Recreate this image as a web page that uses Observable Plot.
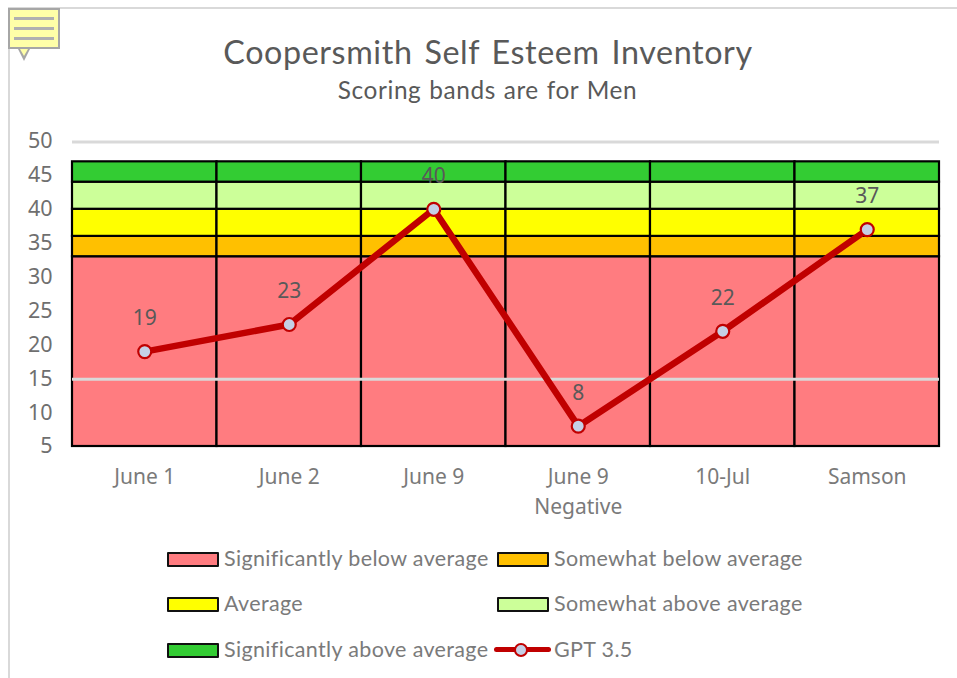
<!DOCTYPE html>
<html>
<head>
<meta charset="utf-8">
<script src="https://cdn.jsdelivr.net/npm/d3@7"></script>
<script src="https://cdn.jsdelivr.net/npm/@observablehq/plot@0.6"></script>
<style>
html,body{margin:0;padding:0;background:#fff;}
body{width:957px;height:678px;overflow:hidden;position:relative;font-family:Lato,"Noto Sans",sans-serif;}
#frame{position:absolute;left:8px;top:7px;width:960px;height:700px;border-left:2px solid #d9d9d9;border-top:2px solid #d9d9d9;box-sizing:border-box;}
#note{position:absolute;left:8px;top:8px;width:52px;height:41px;box-sizing:border-box;background:#ffffa8;border:2px solid #a6a6a6;}
#note i{position:absolute;left:4px;width:40px;height:3px;background:#b0b0b0;}
#note b{position:absolute;left:8px;top:39px;width:0;height:0;border-left:6px solid transparent;border-right:6px solid transparent;border-top:12px solid #a6a6a6;}
#note u{position:absolute;left:10px;top:39px;width:0;height:0;border-left:4px solid transparent;border-right:4px solid transparent;border-top:7px solid #ffffa8;}
#title{position:absolute;left:0;width:976px;top:33px;text-align:center;font-size:32.3px;line-height:38px;color:#595959;letter-spacing:.6px;word-spacing:3px;}
#subtitle{position:absolute;left:0;width:975px;top:75px;text-align:center;font-size:24.4px;line-height:30px;color:#595959;letter-spacing:.6px;word-spacing:1px;}
#chart{position:absolute;left:0;top:130px;}
#chart svg{display:block;background:transparent;}
.lg{position:absolute;font-size:21.5px;line-height:28px;color:#7a7a7a;white-space:nowrap;letter-spacing:.35px;}
.sw{position:absolute;width:52px;height:15px;box-sizing:border-box;border:2.5px solid #111;border-radius:1px;}
.ln{position:absolute;width:57px;height:5px;border-radius:3px;background:#c00000;}
.mk{position:absolute;width:14px;height:14px;box-sizing:border-box;border-radius:50%;background:#c5cfe5;border:2.5px solid #c00000;}
</style>
</head>
<body>
<div id="frame"></div>
<div id="note"><i style="top:7px"></i><i style="top:17px"></i><i style="top:27px"></i><b></b><u></u></div>
<div id="title">Coopersmith Self Esteem Inventory</div>
<div id="subtitle">Scoring bands are for Men</div>
<div id="chart"></div>
<div id="legend"></div>
<script>
const categories = ["June 1", "June 2", "June 9", "June 9\nNegative", "10-Jul", "Samson"];
const gptValues = [19, 23, 40, 8, 22, 37];
const bandNames = ["Significantly below average", "Somewhat below average", "Average", "Somewhat above average", "Significantly above average"];
const bandLows = [5, 33, 36, 40, 44];
const bandHighs = [33, 36, 40, 44, 47];
const bandColors = ["#ff7c80", "#ffc000", "#ffff00", "#ccff99", "#33cc33"];
const yTicks = [5, 10, 15, 20, 25, 30, 35, 40, 45, 50];
const visibleGrid = [15, 50];
const seriesName = "GPT 3.5";

const bars = categories.flatMap(c => bandNames.map((b, i) => ({category: c, band: b, low: bandLows[i], high: bandHighs[i], color: bandColors[i]})));
const points = categories.map((c, i) => ({category: c, value: gptValues[i]}));

const plot = Plot.plot({
  width: 957,
  height: 392,
  marginTop: 11,
  marginLeft: 72,
  marginRight: 18,
  marginBottom: 76,
  style: {background: "transparent", overflow: "visible"},
  x: {domain: categories, padding: 0, round: false, label: null},
  y: {domain: [5, 50], label: null},
  marks: [
    Plot.axisY({ticks: yTicks, tickSize: 0, tickPadding: 20, fontSize: 21.5, fill: "#6f6f6f", label: null, marginLeft: 72}),
    Plot.axisX({tickSize: 0, tickPadding: 17, fontSize: 21, fill: "#7a7a7a", label: null, lineHeight: 1.4, tickFormat: d => d}),
    Plot.barY(bars, {x: "category", y1: "low", y2: "high", fill: "color", stroke: "#000", strokeWidth: 2.2}),
    Plot.ruleY(visibleGrid, {stroke: "#d9d9d9", strokeWidth: 3, dy: 0.5}),
    Plot.line(points, {x: "category", y: "value", stroke: "#c00000", strokeWidth: 6.5, curve: "linear"}),
    Plot.dot(points, {x: "category", y: "value", r: 6.5, fill: "#c5cfe5", stroke: "#c00000", strokeWidth: 2.2}),
    Plot.text(points, {x: "category", y: "value", text: "value", dy: -33, fontSize: 21, fill: "#595959"})
  ]
});
document.getElementById("chart").appendChild(plot);

const lg = document.getElementById("legend");
const rowY = [559, 604, 650];
const colX = [167, 497];
function add(cls, left, top, css, text) {
  const d = document.createElement("div");
  d.className = cls;
  d.style.left = left + "px";
  d.style.top = top + "px";
  if (css) d.style.background = css;
  if (text) d.textContent = text;
  lg.appendChild(d);
}
bandNames.forEach((n, i) => {
  const col = i % 2, row = Math.floor(i / 2);
  add("sw", colX[col], rowY[row] - 7, bandColors[i]);
  add("lg", colX[col] + 57, rowY[row] - 15, null, n);
});
add("ln", 494, rowY[2] - 3);
add("mk", colX[1] + 17, rowY[2] - 7);
add("lg", colX[1] + 57, rowY[2] - 15, null, seriesName);
</script>
</body>
</html>
